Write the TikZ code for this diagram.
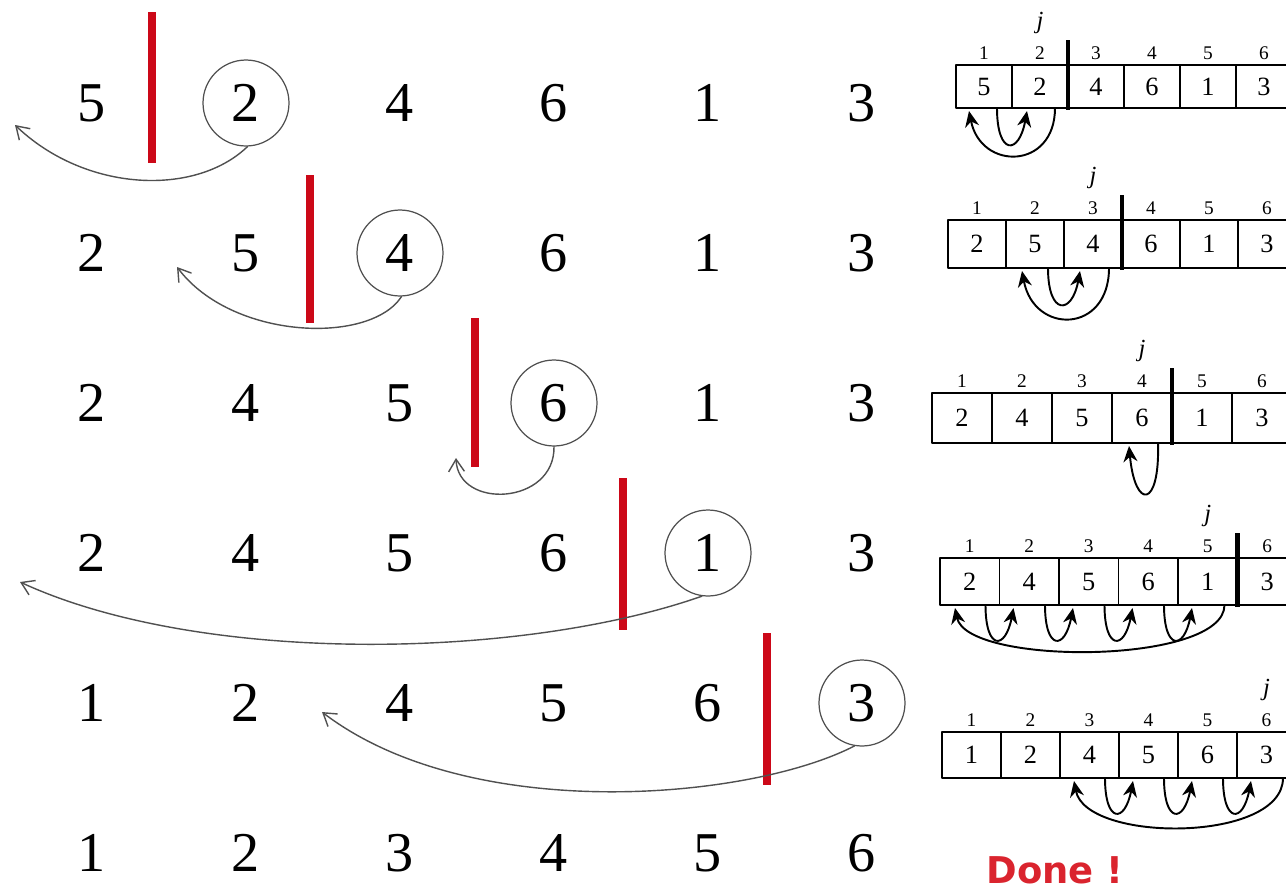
\documentclass[tikz,border=0pt]{standalone}
\usepackage{fontspec}
\setmainfont{Liberation Serif}
\newfontfamily\donefont{DejaVu Sans}
\usetikzlibrary{arrows.meta,calc,positioning}
\definecolor{barred}{RGB}{204,8,24}
\definecolor{donered}{RGB}{218,36,46}
\definecolor{curvegray}{RGB}{80,80,80}

\begin{document}
\begin{tikzpicture}[line cap=round,line join=round,x=0.02cm,y=-0.02cm,
  num/.style={inner sep=0pt,font=\fontsize{32}{36}\selectfont},
  ring/.style={draw=curvegray,line width=0.7pt,circle,minimum size=1.72cm,inner sep=0pt},
  redbar/.style={draw=barred,line width=4.5pt,line cap=butt},
  back/.style={draw=curvegray,line width=0.8pt,-{Straight Barb[length=7pt,width=9pt]}},
  cell/.style={draw,line width=0.9pt,inner sep=0pt,outer sep=0pt,font=\fontsize{15}{16}\selectfont},
  idx/.style={inner sep=1pt,font=\fontsize{11}{12}\selectfont},
  jmark/.style={inner sep=1pt,font=\fontsize{14}{16}\selectfont\itshape},
  wall/.style={line width=2.3pt,line cap=butt},
  move/.style={line width=1.1pt,-{Stealth[length=9pt,width=8pt]}}]
\useasboundingbox (0,0) rectangle (1286,893);
\clip (0,0) rectangle (1286,893);
% left: the rows of numbers
\foreach \r/\vals in {1/{5,2,4,6,1,3},2/{2,5,4,6,1,3},3/{2,4,5,6,1,3},4/{2,4,5,6,1,3},5/{1,2,4,5,6,3},6/{1,2,3,4,5,6}}
  \foreach \v [count=\k] in \vals
    \node[num] (n\r-\k) at ({92+154*(\k-1)},{103+150*(\r-1)}) {\v};
\foreach \r/\k in {1/2,2/3,3/4,4/5,5/6}
  \node[ring] (c\r) at (n\r-\k) {};
\foreach \bx/\ya/\yb in {152/12/163,310/175/323,475/318/467,623/478/630,767/633/785}
  \draw[redbar] (\bx,\ya) -- (\bx,\yb);
\coordinate (t1) at (15,125);
\coordinate (t2) at (177,267);
\coordinate (t3) at (456,458);
\coordinate (t4) at (20,582);
\coordinate (t5) at (322,712);
\draw[back] (c1.-88) .. controls (195,197) and (85,192) .. (t1);
\draw[back] (c2.-88) .. controls (370,345) and (232,340) .. (t2);
\draw[back] (c3.south) .. controls (555,505) and (458,510) .. (t3);
\draw[back] (c4.-98) .. controls (520,660) and (200,665) .. (t4);
\draw[back] (c5.-100) .. controls (750,800) and (470,825) .. (t5);
% right: the arrays
\foreach \r/\lx/\w/\ty/\h/\vals in {1/956/56/65/43/{5,2,4,6,1,3},2/948/58/220/48/{2,5,4,6,1,3},3/932/60/393/50/{2,4,5,6,1,3},4/940/59.5/558/47/{2,4,5,6,1,3},5/942/59/732/46/{1,2,4,5,6,3}}
  \foreach \v [count=\k] in \vals {
    \node[cell,minimum width=\w*0.02cm,minimum height=\h*0.02cm] (a\r-\k) at ({\lx+(\k-0.5)*\w},{\ty+\h/2}) {\v};
    \node[idx,above=2pt of a\r-\k] (i\r-\k) {\k};
  }
\foreach \r/\j in {1/2,2/3,3/4,4/5,5/6}
  \node[jmark,above=5pt of i\r-\j] (j\r) {j};
\foreach \r/\b in {1/2,2/3,3/4,4/5}
  \draw[wall] ($(a\r-\b.north east)+(0,-25)$) -- ($(a\r-\b.south east)+(0,2)$);
% row 1
\draw[move] ($(a1-2.south east)+(-13,0)$) .. controls +(0,62) and +(12,60) .. ($(a1-1.south west)+(13,3)$);
\draw[move] ($(a1-1.south east)+(-15,0)$) .. controls +(0,48) and +(-8,44) .. ($(a1-2.south west)+(15,3)$);
% row 2
\draw[move] ($(a2-3.south east)+(-13,0)$) .. controls +(0,66) and +(12,64) .. ($(a2-2.south west)+(16,3)$);
\draw[move] ($(a2-2.south east)+(-16,0)$) .. controls +(0,48) and +(-8,44) .. ($(a2-3.south west)+(16,3)$);
% row 3
\draw[move] ($(a3-4.south east)+(-14,0)$) .. controls +(2,66) and +(6,64) .. ($(a3-4.south west)+(17,3)$);
% row 4
\draw[move] ($(a4-5.south east)+(-13,0)$) .. controls +(0,60) and +(12,58) .. ($(a4-1.south west)+(15,3)$);
\foreach \k/\m in {1/2,2/3,3/4,4/5}
  \draw[move] ($(a4-\k.south east)+(-14,0)$) .. controls +(0,46) and +(-8,42) .. ($(a4-\m.south west)+(14,3)$);
% row 5
\draw[move] ($(a5-6.south east)+(-13,0)$) .. controls +(0,65) and +(12,62) .. ($(a5-3.south west)+(14,3)$);
\foreach \k/\m in {3/4,4/5,5/6}
  \draw[move] ($(a5-\k.south east)+(-14,0)$) .. controls +(0,46) and +(-8,42) .. ($(a5-\m.south west)+(14,3)$);
\node[font={\donefont\bfseries\fontsize{21}{24}\selectfont},text=donered] (done) at (1055,870) {Done !};
\end{tikzpicture}
\end{document}
